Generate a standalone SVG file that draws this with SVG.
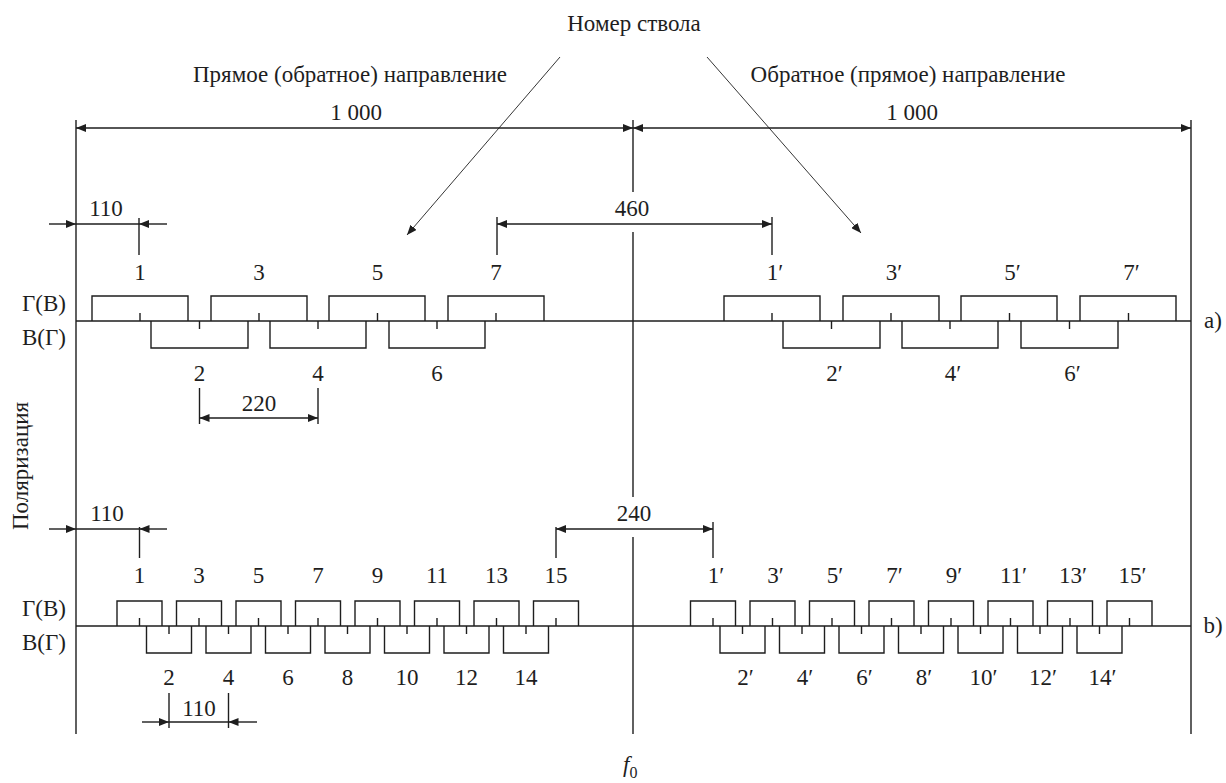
<svg xmlns="http://www.w3.org/2000/svg" width="1226" height="783" viewBox="0 0 1226 783">
<style>
  .ln{stroke:#1e1e1e;stroke-width:1.4;fill:none}
  .thin{stroke:#1e1e1e;stroke-width:0.9;fill:none}
  .t{font-family:"Liberation Serif","Times New Roman",serif;font-size:23px;fill:#1e1e1e}
  .m{text-anchor:middle}
</style>
<defs>
  <marker id="ah" viewBox="0 0 10 8" refX="10" refY="4" markerWidth="10" markerHeight="8" markerUnits="userSpaceOnUse" orient="auto-start-reverse">
    <path d="M0,0 L10,4 L0,8 z" fill="#1e1e1e"/>
  </marker>
</defs>
<rect width="1226" height="783" fill="#fff"/>

<g id="titles">
  <text class="t m" x="634" y="31">Номер ствола</text>
  <text class="t m" x="350" y="82">Прямое (обратное) направление</text>
  <text class="t m" x="908" y="82">Обратное (прямое) направление</text>
  <text class="t m" x="356" y="120">1 000</text>
  <text class="t m" x="912" y="120">1 000</text>
  <text class="t m" transform="translate(28,466) rotate(-90)" x="0" y="0">Поляризация</text>
  <text class="t" x="623" y="772"><tspan font-style="italic">f</tspan><tspan font-size="16" dy="6">0</tspan></text>
</g>

<g id="axes">
  <path class="ln" d="M76,120 V734 M1191,120 V734 M633,120 V192 M633,232 V497 M633,537 V734"/>
  <path class="ln" d="M76,321 H1191 M76,626 H1191"/>
  <text class="t m" x="1213" y="328">a)</text>
  <text class="t m" x="1213" y="633">b)</text>
</g>

<g id="dimensions">
  <line class="ln" x1="76" y1="128" x2="633" y2="128" marker-start="url(#ah)" marker-end="url(#ah)"/>
  <line class="ln" x1="633" y1="128" x2="1191" y2="128" marker-start="url(#ah)" marker-end="url(#ah)"/>
  <line class="ln" x1="49" y1="224" x2="76" y2="224" marker-end="url(#ah)"/>
  <line class="ln" x1="76" y1="224" x2="139" y2="224"/>
  <line class="ln" x1="167" y1="224" x2="139" y2="224" marker-end="url(#ah)"/>
  <line class="ln" x1="139" y1="218" x2="139" y2="255"/>
  <text class="t m" x="106" y="216">110</text>
  <line class="ln" x1="497" y1="217" x2="497" y2="255"/>
  <line class="ln" x1="772" y1="217" x2="772" y2="255"/>
  <line class="ln" x1="497" y1="224" x2="772" y2="224" marker-start="url(#ah)" marker-end="url(#ah)"/>
  <text class="t m" x="632" y="216">460</text>
  <line class="ln" x1="199.5" y1="388" x2="199.5" y2="424"/>
  <line class="ln" x1="318" y1="388" x2="318" y2="424"/>
  <line class="ln" x1="199.5" y1="418" x2="318" y2="418" marker-start="url(#ah)" marker-end="url(#ah)"/>
  <text class="t m" x="259" y="411">220</text>
  <line class="ln" x1="49" y1="529" x2="76" y2="529" marker-end="url(#ah)"/>
  <line class="ln" x1="76" y1="529" x2="139.5" y2="529"/>
  <line class="ln" x1="167" y1="529" x2="139.5" y2="529" marker-end="url(#ah)"/>
  <line class="ln" x1="139.5" y1="527" x2="139.5" y2="558"/>
  <text class="t m" x="107" y="521">110</text>
  <line class="ln" x1="556" y1="527" x2="556" y2="558"/>
  <line class="ln" x1="713" y1="522" x2="713" y2="558"/>
  <line class="ln" x1="556" y1="529" x2="713" y2="529" marker-start="url(#ah)" marker-end="url(#ah)"/>
  <text class="t m" x="634" y="521">240</text>
  <line class="ln" x1="169" y1="693" x2="169" y2="728"/>
  <line class="ln" x1="228.5" y1="693" x2="228.5" y2="728"/>
  <line class="ln" x1="142" y1="722" x2="169" y2="722" marker-end="url(#ah)"/>
  <line class="ln" x1="169" y1="722" x2="228.5" y2="722"/>
  <line class="ln" x1="257" y1="722" x2="228.5" y2="722" marker-end="url(#ah)"/>
  <text class="t m" x="199" y="716">110</text>
</g>

<g id="section-a">
  <text class="t m" x="44" y="311">Г(В)</text>
  <text class="t m" x="44" y="345">В(Г)</text>
  <path class="ln" d="
    M92,321 V296 H188 V321 M140,321 V313
    M211,321 V296 H307 V321 M259,321 V313
    M329,321 V296 H425 V321 M377.5,321 V313
    M448,321 V296 H544 V321 M496,321 V313
    M724,321 V296 H820 V321 M772,321 V313
    M843,321 V296 H939 V321 M891,321 V313
    M961,321 V296 H1057 V321 M1009.5,321 V313
    M1080,321 V296 H1176 V321 M1128.5,321 V313
    M151,321 V348 H248 V321 M199.5,321 V329
    M270,321 V348 H366 V321 M318,321 V329
    M389,321 V348 H485 V321 M437,321 V329
    M783,321 V348 H880 V321 M831.5,321 V329
    M902,321 V348 H998 V321 M950,321 V329
    M1021,321 V348 H1118 V321 M1069.5,321 V329"/>
  <text class="t m" x="140" y="280">1</text>
  <text class="t m" x="259" y="280">3</text>
  <text class="t m" x="377.5" y="280">5</text>
  <text class="t m" x="496" y="280">7</text>
  <text class="t m" x="775" y="280">1′</text>
  <text class="t m" x="894" y="280">3′</text>
  <text class="t m" x="1012.5" y="280">5′</text>
  <text class="t m" x="1131.5" y="280">7′</text>
  <text class="t m" x="199.5" y="381">2</text>
  <text class="t m" x="318" y="381">4</text>
  <text class="t m" x="437" y="381">6</text>
  <text class="t m" x="834.5" y="381">2′</text>
  <text class="t m" x="953" y="381">4′</text>
  <text class="t m" x="1072.5" y="381">6′</text>
</g>

<g id="section-b">
  <text class="t m" x="44" y="616">Г(В)</text>
  <text class="t m" x="44" y="650">В(Г)</text>
  <path class="ln" d="
    M117,626 V601 H162 V626 M139.5,626 V618
    M176.5,626 V601 H221.5 V626 M199,626 V618
    M236,626 V601 H281 V626 M258.5,626 V618
    M295.5,626 V601 H340.5 V626 M318,626 V618
    M355,626 V601 H400 V626 M377.5,626 V618
    M414.5,626 V601 H459.5 V626 M437,626 V618
    M474,626 V601 H519 V626 M496.5,626 V618
    M533.5,626 V601 H578.5 V626 M556,626 V618
    M146.5,626 V653 H191.5 V626 M169,626 V634
    M206,626 V653 H251 V626 M228.5,626 V634
    M265.5,626 V653 H310.5 V626 M288,626 V634
    M325,626 V653 H370 V626 M347.5,626 V634
    M384.5,626 V653 H429.5 V626 M407,626 V634
    M444,626 V653 H489 V626 M466.5,626 V634
    M503.5,626 V653 H548.5 V626 M526,626 V634
    M690.5,626 V601 H735.5 V626 M713,626 V618
    M750,626 V601 H795 V626 M772.5,626 V618
    M809.5,626 V601 H854.5 V626 M832,626 V618
    M869,626 V601 H914 V626 M891.5,626 V618
    M928.5,626 V601 H973.5 V626 M951,626 V618
    M988,626 V601 H1033 V626 M1010.5,626 V618
    M1047.5,626 V601 H1092.5 V626 M1070,626 V618
    M1107,626 V601 H1152 V626 M1129.5,626 V618
    M720,626 V653 H765 V626 M742.5,626 V634
    M779.5,626 V653 H824.5 V626 M802,626 V634
    M839,626 V653 H884 V626 M861.5,626 V634
    M898.5,626 V653 H943.5 V626 M921,626 V634
    M958,626 V653 H1003 V626 M980.5,626 V634
    M1017.5,626 V653 H1062.5 V626 M1040,626 V634
    M1077,626 V653 H1122 V626 M1099.5,626 V634"/>
  <text class="t m" x="139.5" y="583">1</text>
  <text class="t m" x="199" y="583">3</text>
  <text class="t m" x="258.5" y="583">5</text>
  <text class="t m" x="318" y="583">7</text>
  <text class="t m" x="377.5" y="583">9</text>
  <text class="t m" x="437" y="583">11</text>
  <text class="t m" x="496.5" y="583">13</text>
  <text class="t m" x="556" y="583">15</text>
  <text class="t m" x="716" y="583">1′</text>
  <text class="t m" x="775.5" y="583">3′</text>
  <text class="t m" x="835" y="583">5′</text>
  <text class="t m" x="894.5" y="583">7′</text>
  <text class="t m" x="954" y="583">9′</text>
  <text class="t m" x="1013.5" y="583">11′</text>
  <text class="t m" x="1073" y="583">13′</text>
  <text class="t m" x="1132.5" y="583">15′</text>
  <text class="t m" x="169" y="685">2</text>
  <text class="t m" x="228.5" y="685">4</text>
  <text class="t m" x="288" y="685">6</text>
  <text class="t m" x="347.5" y="685">8</text>
  <text class="t m" x="407" y="685">10</text>
  <text class="t m" x="466.5" y="685">12</text>
  <text class="t m" x="526" y="685">14</text>
  <text class="t m" x="745.5" y="685">2′</text>
  <text class="t m" x="805" y="685">4′</text>
  <text class="t m" x="864.5" y="685">6′</text>
  <text class="t m" x="924" y="685">8′</text>
  <text class="t m" x="983.5" y="685">10′</text>
  <text class="t m" x="1043" y="685">12′</text>
  <text class="t m" x="1102.5" y="685">14′</text>
</g>

<g id="connectors">
  <line class="thin" x1="560" y1="57" x2="407" y2="235" marker-end="url(#ah)"/>
  <line class="thin" x1="707" y1="57" x2="861" y2="233" marker-end="url(#ah)"/>
</g>
</svg>
